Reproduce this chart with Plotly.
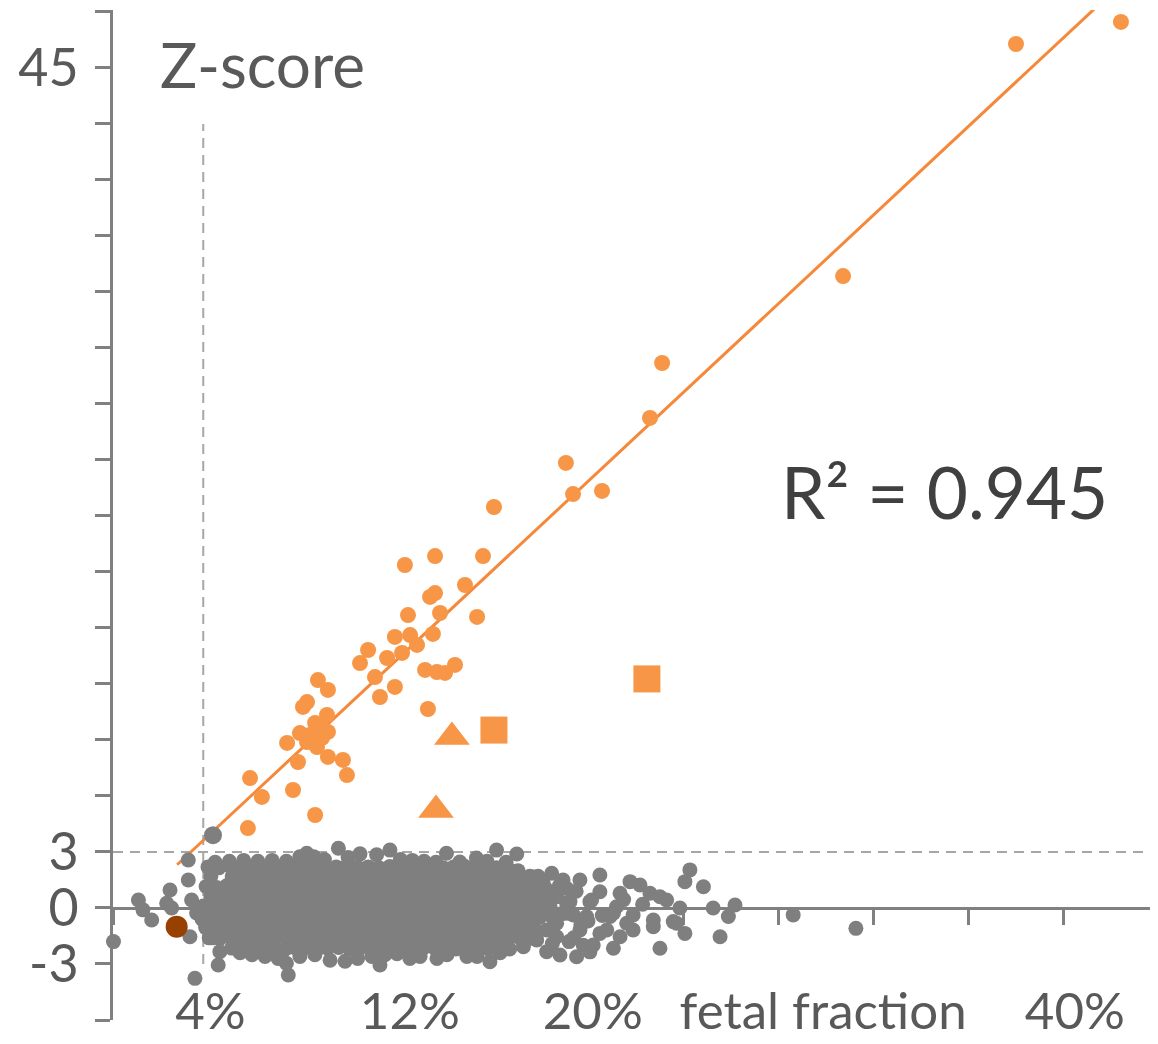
import plotly.graph_objects as go

# ---------------- data ----------------
# fetal fraction (%) and Z-score of unaffected samples (grey cloud)
gray_x = [
    # bottom row ~ -2.15
    5.0, 5.47, 5.9, 6.33, 6.8, 7.26, 7.68, 8.14, 8.6, 9.03, 9.5, 9.96, 10.4, 10.83, 11.3, 11.76, 12.2, 12.64, 13.1, 13.55, 14.0, 14.44, 14.9, 15.36, 15.8, 16.25,
    # ~ -1.6
    4.05, 4.5, 4.95, 5.4, 5.85, 6.28, 6.73, 7.2, 7.64, 8.08, 8.55, 8.98, 9.43, 9.9, 10.35, 10.78, 11.24, 11.7, 12.13, 12.6, 13.05, 13.48, 13.94, 14.4, 14.83, 15.3, 15.75, 16.2, 16.65, 17.1, 17.55,
    # ~ -1.05
    3.9, 4.3, 4.75, 5.2, 5.63, 6.08, 6.52, 6.97, 7.42, 7.87, 8.3, 8.76, 9.2, 9.65, 10.1, 10.55, 11.0, 11.45, 11.9, 12.35, 12.8, 13.25, 13.7, 14.15, 14.6, 15.05, 15.5, 15.95, 16.4, 16.85, 17.3, 17.75,
    # ~ -0.5
    4.1, 4.55, 5.0, 5.43, 5.87, 6.3, 6.76, 7.2, 7.65, 8.1, 8.53, 8.98, 9.42, 9.88, 10.32, 10.77, 11.22, 11.68, 12.12, 12.57, 13.02, 13.47, 13.92, 14.37, 14.82, 15.27, 15.72, 16.17, 16.62, 17.07, 17.52, 17.97,
    # ~ 0.05
    3.92, 4.35, 4.78, 5.22, 5.66, 6.1, 6.54, 6.98, 7.43, 7.88, 8.32, 8.77, 9.22, 9.67, 10.12, 10.56, 11.0, 11.46, 11.9, 12.35, 12.8, 13.26, 13.7, 14.15, 14.6, 15.05, 15.5, 15.96, 16.4, 16.86, 17.3, 17.75, 18.2,
    # ~ 0.6
    4.12, 4.57, 5.0, 5.45, 5.88, 6.32, 6.77, 7.2, 7.66, 8.1, 8.55, 9.0, 9.44, 9.88, 10.33, 10.78, 11.23, 11.67, 12.13, 12.58, 13.03, 13.48, 13.93, 14.38, 14.83, 15.28, 15.73, 16.18, 16.63, 17.08, 17.52, 17.96,
    # ~ 1.15
    3.92, 4.36, 4.8, 5.24, 5.68, 6.12, 6.56, 7.0, 7.45, 7.9, 8.34, 8.79, 9.24, 9.68, 10.13, 10.58, 11.02, 11.47, 11.92, 12.37, 12.82, 13.27, 13.72, 14.17, 14.62, 15.07, 15.52, 15.97, 16.42, 16.87, 17.32, 17.77,
    # ~ 1.7
    4.12, 5.02, 5.46, 5.9, 6.34, 6.78, 7.22, 7.67, 8.12, 8.56, 9.0, 9.45, 9.9, 10.35, 10.8, 11.25, 11.7, 12.15, 12.6, 13.05, 13.5, 13.95, 14.4, 14.85, 15.3, 15.75, 16.2, 16.65, 17.1, 17.55,
    # ~ 2.2
    4.0, 4.45, 4.9, 5.35, 5.8, 6.25, 6.7, 7.15, 7.6, 8.05, 8.5, 8.95, 9.4, 9.85, 10.3, 10.75, 11.2, 11.65, 12.1, 12.55, 13.0, 13.45, 13.9, 14.35, 14.8, 15.25, 15.7, 16.15, 16.6, 17.05,
    # upper edge
    4.3, 4.9, 5.5, 6.1, 6.7, 7.3, 7.87, 8.45, 8.9, 9.9, 10.4, 11.1, 12.1, 12.6, 13.1, 13.6, 14.04, 14.6, 15.3, 15.75, 16.15, 16.55, 17.0, 17.7, 16.7,
    # lower edge
    5.35, 5.85, 6.4, 6.95, 7.87, 8.5, 9.14, 9.77, 10.3, 10.9, 11.45, 11.96, 12.5, 12.93, 13.64, 14.06, 14.9, 15.33, 15.87, 16.3, 16.7, 17.28, 17.84,
    # right tail
    18.26, 18.82, 19.52, 20.08, 20.22, 21.07, 23.03, 18.47, 18.95, 19.66, 20.5, 20.5, 21.35, 21.77, 22.19, 22.61, 23.03, 23.31, 23.87, 23.59,
    24.08, 24.29, 24.08, 24.86, 25.27, 26.19, 25.91, 25.56, 22.75, 22.75, 20.93, 21.63, 21.2, 21.9, 20.08, 20.5, 20.79, 19.38, 19.66, 18.68,
    19.1, 18.68, 18.12, 19.24, 19.1, 18.68, 18.26, 19.94, 20.15, 21.07, 21.9, 21.35, 17.98, 18.12, 19.1, 18.5, 19.2, 19.8, 23.73, 28.64, 31.28,
    18.4, 18.9, 19.5, 20.0, 18.3, 18.8, 19.4, 20.6, 21.5, 22.3, 17.9, 18.5, 19.7,
    # left and scattered outliers
    0.02, 1.07, 1.26, 1.63, 2.4, 2.26, 2.47, 3.17, 3.17, 3.31, 3.52, 3.24, 3.45, 4.43, 4.5, 4.16, 3.8, 3.75, 4.2, 5.2,
    7.38, 7.3, 11.24, 11.66, 9.49, 8.16,
]
gray_y = [
    -2.15, -2.2, -2.1, -2.18, -2.12, -2.2, -2.14, -2.1, -2.2, -2.16, -2.12, -2.19, -2.13, -2.2, -2.1, -2.17, -2.14, -2.2, -2.12, -2.16, -2.1, -2.2, -2.15, -2.12, -2.18, -2.1,
    -1.6, -1.65, -1.55, -1.62, -1.58, -1.66, -1.6, -1.54, -1.63, -1.6, -1.57, -1.65, -1.6, -1.55, -1.62, -1.58, -1.64, -1.6, -1.56, -1.63, -1.59, -1.6, -1.66, -1.55, -1.61, -1.6, -1.57, -1.64, -1.6, -1.58, -1.62,
    -1.05, -1.1, -1.0, -1.08, -1.03, -1.1, -1.05, -0.98, -1.06, -1.02, -1.1, -1.04, -1.0, -1.07, -1.05, -1.1, -1.02, -1.06, -1.0, -1.08, -1.04, -1.05, -1.1, -1.0, -1.06, -1.03, -1.08, -1.05, -1.0, -1.07, -1.04, -1.1,
    -0.5, -0.55, -0.45, -0.52, -0.48, -0.56, -0.5, -0.44, -0.53, -0.49, -0.55, -0.5, -0.46, -0.52, -0.5, -0.56, -0.47, -0.51, -0.5, -0.54, -0.45, -0.5, -0.53, -0.48, -0.55, -0.5, -0.46, -0.52, -0.5, -0.55, -0.48, -0.5,
    0.05, 0.0, 0.1, 0.03, 0.08, 0.0, 0.06, 0.1, 0.02, 0.05, 0.09, 0.0, 0.04, 0.07, 0.05, 0.1, 0.0, 0.06, 0.03, 0.08, 0.05, 0.0, 0.1, 0.04, 0.06, 0.0, 0.08, 0.05, 0.02, 0.07, 0.05, 0.0, 0.04,
    0.6, 0.55, 0.65, 0.58, 0.62, 0.56, 0.6, 0.66, 0.57, 0.6, 0.63, 0.55, 0.6, 0.64, 0.58, 0.6, 0.56, 0.62, 0.6, 0.65, 0.57, 0.6, 0.55, 0.63, 0.6, 0.58, 0.64, 0.6, 0.56, 0.62, 0.6, 0.58,
    1.15, 1.1, 1.2, 1.12, 1.18, 1.1, 1.15, 1.2, 1.1, 1.16, 1.12, 1.2, 1.14, 1.1, 1.18, 1.15, 1.1, 1.2, 1.13, 1.16, 1.1, 1.18, 1.15, 1.12, 1.2, 1.1, 1.16, 1.14, 1.18, 1.1, 1.15, 1.12,
    1.7, 1.68, 1.72, 1.65, 1.7, 1.75, 1.68, 1.7, 1.66, 1.72, 1.7, 1.74, 1.68, 1.7, 1.65, 1.72, 1.7, 1.67, 1.73, 1.7, 1.68, 1.72, 1.7, 1.66, 1.7, 1.74, 1.68, 1.7, 1.65, 1.7,
    2.2, 2.15, 2.25, 2.18, 2.22, 2.15, 2.2, 2.25, 2.17, 2.2, 2.23, 2.16, 2.2, 2.24, 2.18, 2.2, 2.15, 2.22, 2.2, 2.17, 2.24, 2.2, 2.16, 2.2, 2.23, 2.18, 2.2, 2.15, 2.1, 2.0,
    2.45, 2.5, 2.55, 2.5, 2.55, 2.5, 2.75, 2.75, 2.6, 2.7, 2.9, 2.85, 2.6, 2.55, 2.5, 2.45, 2.93, 2.46, 2.68, 2.5, 3.1, 2.45, 2.89, 1.66, 2.03,
    -2.4, -2.5, -2.6, -2.7, -2.6, -2.5, -2.8, -2.85, -2.7, -2.6, -2.5, -2.45, -2.7, -2.6, -2.7, -2.5, -2.6, -2.6, -2.88, -2.4, -2.2, -2.07, -1.71,
    -2.34, -2.52, -2.61, -2.35, -1.98, -2.16, -2.16, 1.86, 1.5, 1.5, 1.77, 0.87, 0.79, 1.41, 1.23, 0.79, 0.6, 0.43, 0.0, -0.73,
    -1.36, 2.04, 1.41, 1.14, 0.0, 0.16, -0.46, -1.54, -0.64, -1.0, -0.46, -0.82, 0.07, -0.37, 0.34, -1.36, -1.18, -0.37, -1.18, -1.54,
    0.25, 0.6, 0.6, 0.34, -0.28, -0.82, -1.18, -0.46, 0.43, -0.28, -1.18, -1.54, -0.28, 1.32, 1.05, -1.9, -1.8, -2.0, -0.82, -0.37, -1.09,
    0.1, -0.3, 0.9, -0.7, 0.95, 1.2, -1.6, -0.4, 0.45, 0.2, 1.7, -0.5, -0.9,
    -1.8, 0.43, -0.1, -0.64, 0.96, 0.25, 0.0, 2.57, 1.5, 0.43, -0.27, -1.54, -3.77, -3.05, -2.34, -1.54, 0.1, -0.6, -1.6, -2.16,
    -3.59, -2.96, -3.05, 3.1, 3.2, 2.93,
]

# borderline sample (larger grey dot)
border_x = [4.21]
border_y = [3.9]

# affected samples (orange circles)
orange_x = [42.44, 38.02, 30.74, 23.12, 22.61, 19.07, 19.37, 20.59, 16.04, 12.29,
            13.56, 15.58, 14.82, 13.35, 13.56, 12.42, 13.77, 15.33, 13.47, 11.87,
            12.51, 12.80, 10.74, 11.54, 12.17, 10.40, 11.03, 13.14, 13.64, 13.98,
            14.40, 11.87, 11.24, 13.26, 8.63, 9.05, 8.17, 8.00, 9.01, 8.51,
            8.72, 9.05, 7.87, 7.33, 8.17, 8.59, 9.05, 9.68, 7.79, 9.85,
            5.77, 6.27, 7.58, 8.51, 5.68, 8.29, 8.80]
orange_y = [47.46, 46.28, 33.85, 29.19, 26.25, 23.84, 22.17, 22.34, 21.48, 18.37,
            18.85, 18.85, 17.30, 16.66, 16.87, 15.69, 15.80, 15.59, 14.68, 14.52,
            14.62, 14.09, 13.82, 13.39, 13.66, 13.12, 12.37, 12.75, 12.64, 12.59,
            13.02, 11.84, 11.30, 10.66, 12.21, 11.68, 11.03, 10.77, 10.34, 9.91,
            9.69, 9.43, 9.37, 8.84, 8.89, 8.62, 8.09, 7.93, 7.82, 7.12,
            6.96, 5.95, 6.32, 4.98, 4.28, 9.27, 9.11]

tri_x = [14.27, 13.60]
tri_y = [9.16, 5.25]
sq_x = [16.04, 22.48]
sq_y = [9.53, 12.27]

brown_x = [2.68]
brown_y = [-1.0]

# linear trend of the affected samples
trend_slope = 1.187
trend_intercept = -0.89
trend_x = [2.7, 41.3]
trend_y = [trend_slope * v + trend_intercept for v in trend_x]

r2_text = "R\u00b2 = 0.945"

# axis settings / labels (label positions as they sit in the picture)
x_range = [0, 44]
y_range = [-6, 48.1]
x_tick_vals = [0, 4, 8, 12, 16, 20, 24, 28, 32, 36, 40, 44]
x_label_vals = [4.1, 12.5, 20.2, 29.9, 40.5]
x_label_text = ["4%", "12%", "20%", "fetal fraction", "40%"]
y_tick_vals = [-6, -3, 0, 3, 6, 9, 12, 15, 18, 21, 24, 27, 30, 33, 36, 39, 42, 45, 48]
y_tick_text = ["" if v not in (-3, 0, 3, 45) else str(v) for v in y_tick_vals]
z_threshold = 3
ff_threshold = 3.8

# ---------------- styles ----------------
GREY = "#7F7F7F"
ORANGE = "#F79646"
LINE_ORANGE = "#F5883A"
BROWN = "#974000"
AXIS = "#808080"
TEXT = "#595959"
FONT = "Lato, 'Open Sans', sans-serif"

fig = go.Figure()

fig.add_trace(go.Scatter(x=trend_x, y=trend_y, mode="lines",
                         line=dict(color=LINE_ORANGE, width=3), hoverinfo="skip"))
fig.add_trace(go.Scatter(x=gray_x, y=gray_y, mode="markers", cliponaxis=False,
                         marker=dict(size=15, color=GREY, line=dict(width=0))))
fig.add_trace(go.Scatter(x=border_x, y=border_y, mode="markers", cliponaxis=False,
                         marker=dict(size=18, color=GREY, line=dict(width=0))))
fig.add_trace(go.Scatter(x=orange_x, y=orange_y, mode="markers", cliponaxis=False,
                         marker=dict(size=16, color=ORANGE, line=dict(width=0))))
fig.add_trace(go.Scatter(x=tri_x, y=tri_y, mode="markers",
                         marker=dict(size=31, symbol="triangle-up", color=ORANGE, line=dict(width=0))))
fig.add_trace(go.Scatter(x=sq_x, y=sq_y, mode="markers",
                         marker=dict(size=27, symbol="square", color=ORANGE, line=dict(width=0))))
fig.add_trace(go.Scatter(x=brown_x, y=brown_y, mode="markers",
                         marker=dict(size=22, color=BROWN, line=dict(width=0))))
# carrier trace for the label axis
fig.add_trace(go.Scatter(x=[x_range[0]], y=[None], xaxis="x2", mode="markers",
                         hoverinfo="skip", showlegend=False))

zero_pos = (0 - y_range[0]) / (y_range[1] - y_range[0])

# the page body adds an 8px offset, so the figure is 8px smaller than the window
fig.update_layout(
    width=1150, height=1036,
    margin=dict(l=105, r=0, t=2, b=24, autoexpand=False),
    paper_bgcolor="white", plot_bgcolor="white",
    showlegend=False,
    font=dict(family=FONT, color=TEXT),
    xaxis=dict(range=x_range, anchor="free", position=zero_pos, automargin=False,
               showline=True, linecolor=AXIS, linewidth=3,
               ticks="outside", ticklen=15, tickwidth=3, tickcolor=AXIS,
               tickvals=x_tick_vals, showticklabels=False,
               showgrid=False, zeroline=False, layer="below traces"),
    xaxis2=dict(range=x_range, overlaying="x", anchor="free", position=0.043,
                automargin=False,
                side="bottom", showline=False, ticks="",
                tickvals=x_label_vals, ticktext=x_label_text,
                tickfont=dict(size=51, color=TEXT, family=FONT),
                showgrid=False, zeroline=False),
    yaxis=dict(range=y_range, automargin=False,
               showline=True, linecolor=AXIS, linewidth=3,
               ticks="outside", ticklen=15, tickwidth=3, tickcolor=AXIS,
               tickvals=y_tick_vals, ticktext=y_tick_text,
               tickfont=dict(size=52, color=TEXT, family=FONT),
               ticklabelstandoff=6,
               showgrid=False, zeroline=False, layer="below traces"),
    shapes=[
        dict(type="line", xref="x", yref="y", x0=x_range[0], x1=x_range[1],
             y0=z_threshold, y1=z_threshold, layer="below",
             line=dict(color="#A6A6A6", width=2, dash="10px,7px")),
        dict(type="line", xref="x", yref="y", x0=ff_threshold, x1=ff_threshold,
             y0=-3, y1=42, layer="below",
             line=dict(color="#A6A6A6", width=2, dash="10px,7px")),
    ],
    annotations=[
        dict(x=1.9, y=45.2, xref="x", yref="y", text="Z-score", showarrow=False,
             xanchor="left", yanchor="middle",
             font=dict(size=62, color=TEXT, family=FONT)),
        dict(x=35.0, y=22.3, xref="x", yref="y", text=r2_text, showarrow=False,
             xanchor="center", yanchor="middle",
             font=dict(size=71, color="#404040", family=FONT)),
    ],
)

fig.write_html("out.html")
